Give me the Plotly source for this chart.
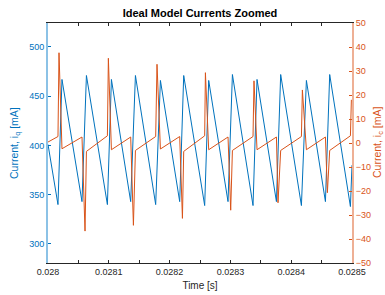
import plotly.graph_objects as go

# i_q (left axis) vertices: time [s], current [mA]
iq_t = [0.0280000, 0.0280164, 0.0280230, 0.0280559, 0.0280632, 0.0280977, 0.0281043,
        0.0281360, 0.0281438, 0.0281771, 0.0281849, 0.0282166, 0.0282232, 0.0282577,
        0.0282643, 0.0282961, 0.0283033, 0.0283372, 0.0283438, 0.0283757, 0.0283827,
        0.0284168, 0.0284250, 0.0284563, 0.0284633, 0.0284974, 0.0285000]
iq_v = [401, 340, 467, 343, 471, 340, 467,
        343, 471, 340, 466, 343, 471, 339,
        466, 343, 472, 339, 467, 343, 472,
        339, 466, 343, 472, 338, 380]

# i_c (right axis) vertices: time [s], current [mA]
ic_t = [0.0280000, 0.0280164, 0.0280181, 0.0280230, 0.0280559, 0.0280609, 0.0280632,
        0.0280977, 0.0280993, 0.0281043, 0.0281360, 0.0281405, 0.0281438, 0.0281771,
        0.0281793, 0.0281849, 0.0282166, 0.0282211, 0.0282232, 0.0282577, 0.0282589,
        0.0282643, 0.0282961, 0.0283005, 0.0283033, 0.0283372, 0.0283388, 0.0283438,
        0.0283757, 0.0283783, 0.0283827, 0.0284168, 0.0284184, 0.0284250, 0.0284563,
        0.0284595, 0.0284633, 0.0284974, 0.0284990]
ic_v = [0.4, 2.7, 37.6, -2.4, 2.5, -36.7, -3.5,
        3.0, 35.3, -2.8, 2.5, -34.3, -3.1, 2.7,
        32.8, -2.5, 2.7, -31.4, -3.5, 3.0, 29.3,
        -2.8, 2.5, -28.0, -3.1, 2.7, 25.9, -2.8,
        2.5, -24.9, -3.1, 2.7, 22.1, -2.8, 2.5,
        -20.7, -3.1, 3.0, 18.0]

x_ticks = [0.028, 0.0281, 0.0282, 0.0283, 0.0284, 0.0285]
x_ticklabels = ["0.028", "0.0281", "0.0282", "0.0283", "0.0284", "0.0285"]
left_ticks = [300, 350, 400, 450, 500]
right_ticks = [-50, -40, -30, -20, -10, 0, 10, 20, 30, 40, 50]

BLUE = "#0072BD"
ORANGE = "#D95319"
BLUE_AX = "#8cc2e6"
ORANGE_AX = "#eeb095"
FONT = "Liberation Sans, Arial, sans-serif"

W, H = 385, 295
ML, MR, MT, MB = 48, 33, 23, 32
PW = W - ML - MR

fig = go.Figure()
fig.add_trace(go.Scatter(x=iq_t, y=iq_v, mode="lines", line=dict(color=BLUE, width=1),
                         yaxis="y", showlegend=False))
fig.add_trace(go.Scatter(x=ic_t, y=ic_v, mode="lines", line=dict(color=ORANGE, width=1),
                         yaxis="y2", showlegend=False))

fig.update_layout(
    width=W, height=H,
    margin=dict(l=ML, r=MR, t=MT, b=MB, autoexpand=False),
    paper_bgcolor="white", plot_bgcolor="white",
    font=dict(family=FONT, size=9, color="#262626"),
    title=dict(text="<b>Ideal Model Currents Zoomed</b>", x=200/W, xanchor="center",
               y=1-13/H, yanchor="middle", yref="container",
               font=dict(size=11, color="#000000", family=FONT)),
    xaxis=dict(range=[0.028, 0.0285], tickvals=x_ticks, ticktext=x_ticklabels,
               automargin=False,
               ticks="inside", ticklen=3, tickcolor="#262626", tickwidth=1,
               minor=dict(dtick=0.00005, tick0=0.028, ticks="inside", ticklen=3, tickcolor="#262626"),
               showline=True, linecolor="#262626", linewidth=1, mirror="ticks",
               showgrid=False, zeroline=False,
               tickfont=dict(size=9, color="#262626"),
               title=dict(text="Time [s]", font=dict(size=10, color="#262626"), standoff=6)),
    yaxis=dict(range=[280.7, 524.3], tickvals=left_ticks, automargin=False,
               ticks="inside", ticklen=3, tickcolor=BLUE, tickwidth=1,
               showline=True, linecolor=BLUE_AX, linewidth=2,
               showgrid=False, zeroline=False,
               tickfont=dict(size=9, color=BLUE)),
    yaxis2=dict(range=[-50, 50], tickvals=right_ticks, overlaying="y", side="right",
                automargin=False,
                ticks="inside", ticklen=3, tickcolor=ORANGE, tickwidth=1,
                showline=True, linecolor=ORANGE_AX, linewidth=2,
                showgrid=False, zeroline=False,
                tickfont=dict(size=9, color=ORANGE)),
    annotations=[
        dict(text="Current, i<sub>q</sub> [mA]", textangle=-90, showarrow=False,
             xref="paper", yref="paper", x=(15 - ML) / PW, y=0.5,
             xanchor="center", yanchor="middle",
             font=dict(size=10.5, color=BLUE, family=FONT)),
        dict(text="Current, i<sub>c</sub> [mA]", textangle=-90, showarrow=False,
             xref="paper", yref="paper", x=(378 - ML) / PW, y=0.5,
             xanchor="center", yanchor="middle",
             font=dict(size=10.5, color=ORANGE, family=FONT)),
    ],
)

fig.write_html("out.html", config={"displayModeBar": False},
               post_script="document.body.style.margin='0';document.body.style.padding='0';")
